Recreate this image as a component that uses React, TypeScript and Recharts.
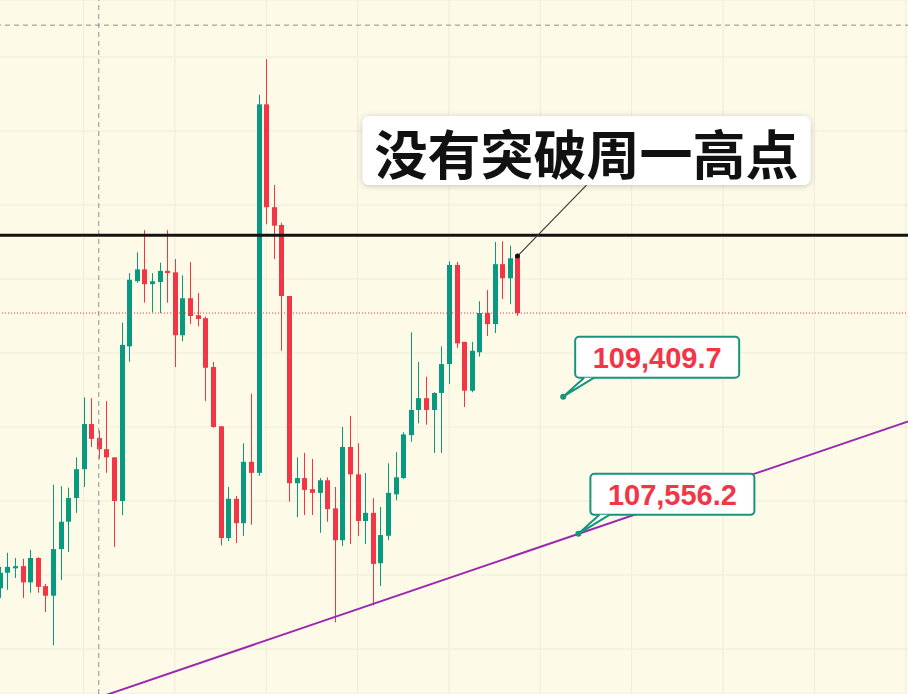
import {
  ComposedChart,
  Bar,
  XAxis,
  YAxis,
  CartesianGrid,
  ReferenceLine,
  ReferenceDot,
} from 'recharts'

// candles, oldest first (prices)
const openPrices = [
  106820, 107030, 107090, 107120, 106900, 107230, 106850, 106720, 107350, 107720,
  108040, 108430, 109040, 108850, 108700, 108590, 108000, 110090, 110970, 111130,
  110930, 110960, 111110, 111090, 110240, 110740, 110510, 110470, 109810, 109010,
  107500, 108030, 107700, 108530, 108380, 113360, 111970, 111730, 110770, 108240,
  108310, 108160, 108110, 108280, 107900, 107470, 108730, 108360, 107730, 107840,
  107160, 107530, 108090, 108310, 108890, 109230, 109390, 109230, 109460, 109850,
  111190, 110150, 109490, 110010, 110540, 110390, 111200, 111010, 111300,
]
const highPrices = [
  107110, 107300, 107230, 107220, 107340, 107240, 106880, 108220, 108200, 108180,
  108590, 109400, 109390, 108950, 109350, 108590, 110410, 111080, 111360, 111660,
  111080, 111220, 111660, 111270, 111050, 111230, 110810, 110490, 109880, 109010,
  108190, 108070, 108780, 109450, 113490, 113970, 112270, 111760, 110770, 108590,
  108650, 108570, 108310, 108320, 108190, 109000, 109150, 108780, 108380, 108040,
  107920, 108510, 108660, 108930, 110280, 109880, 109680, 109470, 110090, 111240,
  111230, 110150, 110150, 110700, 110850, 111500, 111510, 111450, 111310,
]
const lowPrices = [
  106690, 106800, 106960, 106690, 106760, 106760, 106500, 106050, 106930, 107310,
  107840, 108190, 108730, 108570, 108380, 107380, 107810, 109880, 110950, 110680,
  110550, 110540, 110680, 109810, 110160, 110390, 110360, 109350, 108990, 107400,
  107460, 107430, 107530, 107680, 108340, 111740, 111270, 110030, 107990, 107780,
  107810, 107810, 107570, 107720, 106360, 107390, 107420, 107530, 107420, 106590,
  106850, 107470, 108010, 108300, 108800, 109050, 109030, 108650, 108650, 109580,
  110070, 109270, 109470, 109950, 110230, 110270, 110730, 110660, 110500,
]
const closePrices = [
  107030, 107110, 107120, 106900, 107230, 106840, 106720, 107350, 107720, 108040,
  108430, 109040, 108840, 108700, 108590, 108000, 110110, 110990, 111130, 110930,
  110970, 111110, 111080, 110240, 110740, 110500, 110460, 109800, 109000, 107500,
  108030, 107700, 108530, 108380, 113360, 111970, 111720, 110770, 108240, 108310,
  108150, 108110, 108280, 107890, 107470, 108730, 108360, 107730, 107840, 107150,
  107540, 108110, 108320, 108900, 109230, 109390, 109230, 109460, 109850, 111190,
  110130, 109490, 110030, 110540, 110390, 111200, 111010, 111280, 110540,
]

const totalSlots = 124
const priceTicks = [106000, 107000, 108000, 109000, 110000, 111000, 112000, 113000, 114000]
const gridSlots = [11, 23, 35, 47, 59, 71, 83, 95, 107, 119]
const priceDomain = [105392, 114770]

const mondayHigh = 111590
const crossSlot = 13
const crossPrice = 114430
const trendFrom = { x: 14, y: 105380 }
const trendTo = { x: 122, y: 109170 }
const priceMarks = [
  { slot: 74, price: 109409.7 },
  { slot: 76, price: 107556.2 },
]
const noteText = '没有突破周一高点'

const BG = '#fdfbe8'
const GRID = '#efecd8'
const UP = '#089981'
const DOWN = '#f23645'
const TEAL = '#16957c'
const PURPLE = '#9c27b0'

const rows = Array.from({ length: totalSlots }, (_, i) =>
  i < openPrices.length
    ? { i, open: openPrices[i], high: highPrices[i], low: lowPrices[i], close: closePrices[i] }
    : { i }
)
const lastIdx = openPrices.length - 1

function Candle(props: any) {
  const { x, y, width, height, payload } = props
  if (!payload || payload.open == null || !isFinite(y) || !isFinite(height)) return null
  const { open, close, high, low } = payload
  const cx = Math.round(x + width / 2) + 0.5
  const toY = (v: number) => y + ((high - v) / (high - low)) * height
  const color = close >= open ? UP : DOWN
  const top = toY(Math.max(open, close))
  const bottom = toY(Math.min(open, close))
  return (
    <g>
      <line x1={cx} x2={cx} y1={y} y2={y + height} stroke={color} strokeWidth={1} />
      <rect x={cx - 2.5} y={top} width={5} height={Math.max(1.5, bottom - top)} fill={color} />
    </g>
  )
}

function PriceTag({ cx, cy, price }: any) {
  const bw = 164
  const bh = 41
  const bx = cx + 12
  const by = cy - 19 - bh
  const label = price.toLocaleString('en-US', { minimumFractionDigits: 1 })
  return (
    <g>
      <rect x={bx} y={by} width={bw} height={bh} rx={4} fill="#ffffff" stroke={TEAL} strokeWidth={2} />
      <path
        d={`M${bx + 9},${by + bh} L${cx},${cy} L${bx + 19},${by + bh}`}
        fill="#ffffff"
        stroke={TEAL}
        strokeWidth={2}
        strokeLinejoin="round"
      />
      <circle cx={cx} cy={cy} r={3} fill={TEAL} />
      <text
        x={bx + bw / 2}
        y={by + bh / 2 + 1}
        textAnchor="middle"
        dominantBaseline="central"
        fontFamily="'Liberation Sans', Arial, sans-serif"
        fontWeight={700}
        fontSize={29}
        fill={DOWN}
      >
        {label}
      </text>
    </g>
  )
}

function Note({ cx, cy }: any) {
  const bx = cx - 155
  const by = cy - 140
  const bw = 448
  const bh = 69
  return (
    <g>
      <defs>
        <filter id="noteShadow" x="-10%" y="-30%" width="120%" height="160%">
          <feDropShadow dx="0" dy="1" stdDeviation="3" floodColor="#000" floodOpacity="0.22" />
        </filter>
      </defs>
      <line x1={cx} y1={cy} x2={cx + 69} y2={by + bh} stroke="#3a3a3a" strokeWidth={1.2} />
      <circle cx={cx} cy={cy} r={2.5} fill="#111" />
      <rect x={bx} y={by} width={bw} height={bh} rx={7} fill="#ffffff" filter="url(#noteShadow)" />
      <text
        x={bx + bw / 2}
        y={by + bh / 2 + 1}
        textAnchor="middle"
        dominantBaseline="central"
        fontFamily="'Noto Sans CJK SC', sans-serif"
        fontWeight={700}
        fontSize={53}
        fill="#111"
      >
        {noteText}
      </text>
    </g>
  )
}

export default function App() {
  return (
    <div
      style={{
        position: 'fixed',
        left: 0,
        top: 0,
        width: 908,
        height: 694,
        overflow: 'hidden',
        background: BG,
      }}
    >
      <div style={{ position: 'absolute', left: -4, top: 0 }}>
        <ComposedChart width={944} height={694} data={rows} margin={{ top: 0, right: 0, bottom: 0, left: 0 }}>
          <CartesianGrid stroke={GRID} strokeWidth={1} />
          <XAxis dataKey="i" type="category" hide ticks={gridSlots} />
          <YAxis type="number" hide domain={priceDomain} allowDataOverflow ticks={priceTicks} />
          <ReferenceLine x={crossSlot} stroke="#8f8f8f" strokeDasharray="5 4" />
          <ReferenceLine y={crossPrice} stroke="#8f8f8f" strokeDasharray="5 4" />
          <Bar
            dataKey={(d: any) => (d.high == null ? null : [d.low, d.high])}
            shape={<Candle />}
            isAnimationActive={false}
          />
          <ReferenceLine y={closePrices[lastIdx]} stroke={DOWN} strokeDasharray="1 2" />
          <ReferenceLine y={mondayHigh} stroke="#131313" strokeWidth={3} />
          <ReferenceLine segment={[trendFrom, trendTo]} stroke={PURPLE} strokeWidth={2} ifOverflow="hidden" />
          <ReferenceDot
            x={lastIdx}
            y={highPrices[lastIdx]}
            shape={(p: any) => <Note cx={p.cx} cy={p.cy} />}
          />
          {priceMarks.map((m) => (
            <ReferenceDot
              key={m.slot}
              x={m.slot}
              y={m.price}
              shape={(p: any) => <PriceTag cx={p.cx} cy={p.cy} price={m.price} />}
            />
          ))}
        </ComposedChart>
      </div>
    </div>
  )
}
